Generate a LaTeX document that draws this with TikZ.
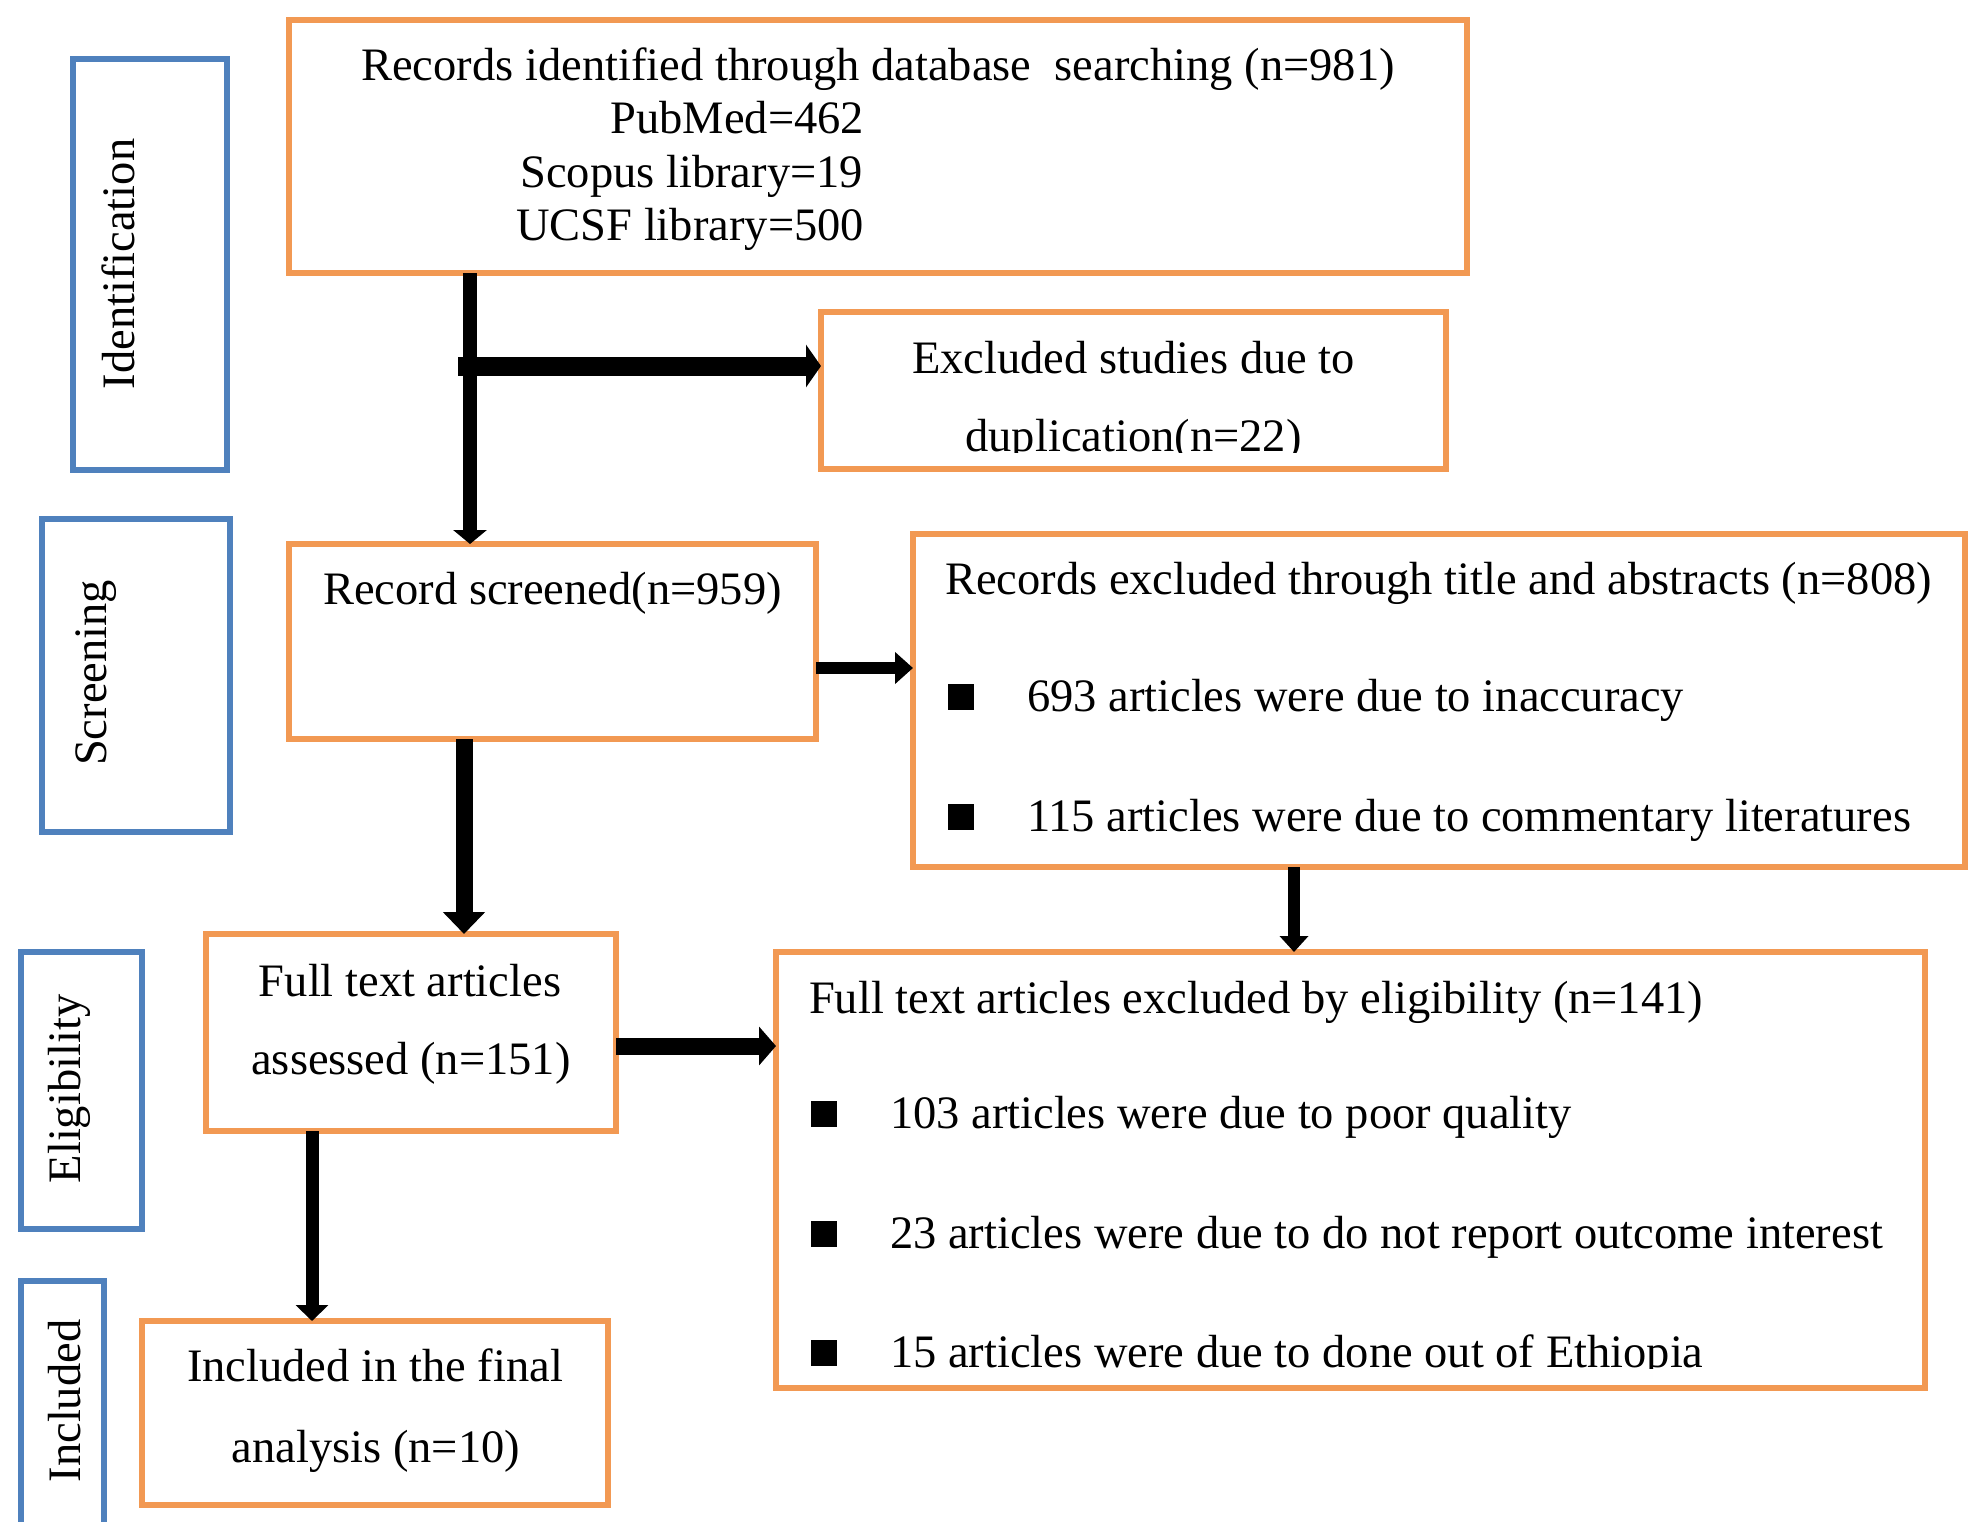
\documentclass[tikz,border=0pt]{standalone}
\usepackage{fontspec}
\setmainfont{Liberation Serif}
\usetikzlibrary{arrows.meta}
\definecolor{boxorange}{RGB}{242,153,83}
\definecolor{phaseblue}{RGB}{79,129,189}
\begin{document}
\begin{tikzpicture}[x=0.5pt,y=-0.5pt,
  obox/.style={draw=boxorange,line width=3.25pt,rectangle,inner sep=0pt,outer sep=0pt},
  bbox/.style={draw=phaseblue,line width=3pt,rectangle,inner sep=0pt,outer sep=0pt},
  txt/.style={font=\fontsize{23.25pt}{28pt}\selectfont,inner sep=0pt,outer sep=0pt},
  vtxt/.style={txt,rotate=90,anchor=base},
  bul/.style={fill=black,draw=none,rectangle,minimum size=13pt,inner sep=0pt,outer sep=0pt,anchor=south west},
  conn/.style={line width=#1,draw=black},
]
\useasboundingbox (0,0) rectangle (1974,1521);

% ---- boxes ----
\node[obox,minimum width=589pt,minimum height=126.5pt] (T) at (878,146.5) {};
\node[bbox,minimum width=77pt,minimum height=205.5pt] (identB) at (150,264.5) {};
\node[obox,minimum width=312.5pt,minimum height=78.5pt] (dup) at (1133.5,390.5) {};
\node[bbox,minimum width=94pt,minimum height=156.5pt] (screenB) at (136,675.5) {};
\node[obox,minimum width=263.5pt,minimum height=97.5pt] (screened) at (552.5,641.5) {};
\node[obox,minimum width=526pt,minimum height=166.5pt] (recexcl) at (1439,700.5) {};
\node[bbox,minimum width=60.5pt,minimum height=138.5pt] (eligB) at (81.5,1090.5) {};
\node[obox,minimum width=205pt,minimum height=98.5pt] (assessed) at (411,1032.5) {};
\node[obox,minimum width=574.5pt,minimum height=218pt] (ftexcl) at (1350.5,1170) {};
\node[bbox,minimum width=41.5pt,minimum height=129.5pt] (inclB) at (62.5,1410.5) {};
\node[obox,minimum width=233pt,minimum height=92pt] (final) at (375,1413) {};

% ---- phase labels ----
\node[vtxt] (identL) at (134,264) {Identification};
\node[vtxt] (screenL) at (106,673) {Screening};
\node[vtxt] (eligL) at (80,1089) {Eligibility};
\node[vtxt] (inclL) at (80,1401) {Included};

% ---- texts ----
\node[txt,anchor=base] (t1) at (878,80) {Records identified through database\ \ searching (n=981)};
\node[txt,anchor=base east] (t2) at (864,133) {PubMed=462};
\node[txt,anchor=base east] (t3) at (863,187) {Scopus library=19};
\node[txt,anchor=base east] (t4) at (864,240) {UCSF library=500};

\node[txt,anchor=base] (d1) at (1133.5,373) {Excluded studies due to};
\begin{scope}
  \clip (830,380) rectangle (1440,452);
  \node[txt,anchor=base] (d2) at (1133.5,451) {duplication(n=22)};
\end{scope}

\node[txt,anchor=base] (s1) at (552.5,604) {Record screened(n=959)};

\node[txt,anchor=base west] (r1) at (945,594) {Records excluded through title and abstracts (n=808)};
\node[bul] (rb1) at (948,710) {};
\node[txt,anchor=base west] (r2) at (1027,711) {693 articles were due to inaccuracy};
\node[bul] (rb2) at (948,830) {};
\node[txt,anchor=base west] (r3) at (1027,831) {115 articles were due to commentary literatures};

\node[txt,anchor=base] (a1) at (410,996) {Full text articles};
\node[txt,anchor=base] (a2) at (411,1074) {assessed (n=151)};

\node[txt,anchor=base west] (f1) at (809,1013) {Full text articles excluded by eligibility (n=141)};
\node[bul] (fb1) at (811,1127) {};
\node[txt,anchor=base west] (f2) at (890,1128) {103 articles were due to poor quality};
\node[bul] (fb2) at (811,1247) {};
\node[txt,anchor=base west] (f3) at (890,1248) {23 articles were due to do not report outcome interest};
\node[bul] (fb3) at (811,1366) {};
\begin{scope}
  \clip (790,1300) rectangle (1900,1368);
  \node[txt,anchor=base west] (f4) at (890,1367) {15 articles were due to done out of Ethiopia};
\end{scope}

\node[txt,anchor=base] (i1) at (375,1381) {Included in the final};
\node[txt,anchor=base] (i2) at (376,1462) {analysis (n=10)};

% ---- connectors ----
\coordinate (x1) at (470,0);
\coordinate (j1) at (458,366);
\coordinate (x4) at (464,0);
\coordinate (x5) at (1294,0);
\coordinate (y3) at (0,668);
\coordinate (y6) at (0,1046);
\coordinate (x7) at (312,0);

\draw[conn=7pt,-{Triangle[length=7pt,width=16.5pt]}] (T.south -| x1) -- (screened.north -| x1);
\draw[conn=9.5pt,-{Triangle[length=7.5pt,width=21pt]}] (j1) -- (dup.west |- j1);
\draw[conn=6pt,-{Triangle[length=9pt,width=15.5pt]}] (screened.east |- y3) -- (recexcl.west |- y3);
\draw[conn=8.5pt,-{Triangle[length=11pt,width=20.5pt]}] (screened.south -| x4) -- (assessed.north -| x4);
\draw[conn=6pt,-{Triangle[length=8pt,width=14pt]}] (recexcl.south -| x5) -- (ftexcl.north -| x5);
\draw[conn=8.5pt,-{Triangle[length=8.5pt,width=19pt]}] (assessed.east |- y6) -- (ftexcl.west |- y6);
\draw[conn=6.5pt,-{Triangle[length=8pt,width=16pt]}] (assessed.south -| x7) -- (final.north -| x7);
\end{tikzpicture}
\end{document}
